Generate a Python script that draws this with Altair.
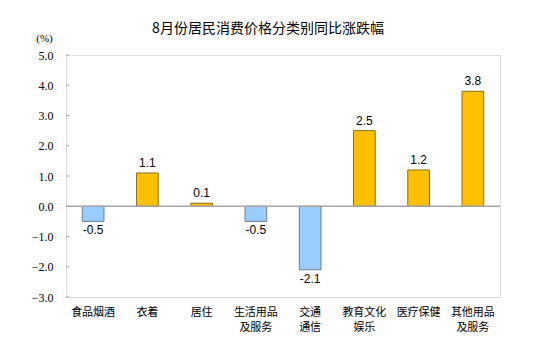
import altair as alt
import pandas as pd

categories = ["食品烟酒", "衣着", "居住", "生活用品\n及服务", "交通\n通信", "教育文化\n娱乐", "医疗保健", "其他用品\n及服务"]
values = [-0.5, 1.1, 0.1, -0.5, -2.1, 2.5, 1.2, 3.8]
y_ticks = [-3.0, -2.0, -1.0, 0.0, 1.0, 2.0, 3.0, 4.0, 5.0]
title_text = "8月份居民消费价格分类别同比涨跌幅"

df = pd.DataFrame({"cat": categories, "val": values})
df["lab"] = df["val"].map(lambda v: f"{v:.1f}")
df["sign"] = df["val"].map(lambda v: "pos" if v >= 0 else "neg")
ticks_df = pd.DataFrame({"val": y_ticks})
zero_df = pd.DataFrame({"val": [0.0]})

FRAME = "#a6a6a6"

x_axis = alt.Axis(labelExpr="split(datum.label, '\\n')", labelAngle=0,
                  labelFont="Noto Sans CJK SC", labelFontSize=11, labelColor="#000",
                  labelPadding=9, labelBaseline="top", labelLineHeight=15,
                  ticks=False, domain=False)
x_scale = alt.Scale(paddingInner=0.6, paddingOuter=0.3)
y_scale = alt.Scale(domain=[-3, 5], nice=False, zero=False)
y_axis = alt.Axis(values=y_ticks, format=".1f", grid=False, ticks=False, domain=False,
                  labelFont="Liberation Serif", labelFontSize=12, labelColor="#000",
                  labelPadding=13, labelOverlap=False, labelFlush=False,
                  title="(%)", titleAngle=0, titleX=-22, titleY=-12,
                  titleFont="Liberation Serif", titleFontSize=11,
                  titleFontWeight="normal", titleColor="#000",
                  titleAlign="center", titleBaseline="bottom")

X = alt.X("cat:N", sort=categories, title=None, scale=x_scale, axis=x_axis)
Y = alt.Y("val:Q", title="(%)", scale=y_scale, axis=y_axis)

bars = alt.Chart(df).mark_bar(strokeWidth=1).encode(
    x=X,
    y=Y,
    y2=alt.datum(0),
    color=alt.Color("sign:N", scale=alt.Scale(domain=["pos", "neg"], range=["#ffc000", "#99ccff"]), legend=None),
    stroke=alt.Stroke("sign:N", scale=alt.Scale(domain=["pos", "neg"], range=["#8a6e1a", "#6f7f8f"]), legend=None),
)

labels_pos = alt.Chart(df).transform_filter("datum.val >= 0").mark_text(
    baseline="bottom", dy=-3, font="Liberation Sans", fontSize=12, color="#000"
).encode(x=X, y=Y, text="lab:N")

labels_neg = alt.Chart(df).transform_filter("datum.val < 0").mark_text(
    baseline="top", dy=4, font="Liberation Sans", fontSize=12, color="#000"
).encode(x=X, y=Y, text="lab:N")

zero = alt.Chart(zero_df).mark_rule(color=FRAME, strokeWidth=1.5).encode(y=Y)

tick_marks = alt.Chart(ticks_df).mark_rule(color=FRAME, strokeWidth=1).encode(
    y=Y, x=alt.value(0), x2=alt.value(3))

title_mark = alt.Chart(pd.DataFrame({"title": [title_text]})).mark_text(
    font="Noto Sans CJK SC", fontSize=14, color="#000", align="center", baseline="middle"
).encode(text="title:N", x=alt.value(202), y=alt.value(-26))

chart = alt.layer(bars, zero, tick_marks, labels_pos, labels_neg, title_mark).properties(
    width=434, height=242,
    padding={"left": 58, "top": 47, "right": 34, "bottom": 50},
    autosize=alt.AutoSizeParams(type="none"),
).configure_view(stroke=FRAME, strokeWidth=1.5).configure_axis(
    labelOverlap=False
).configure_axisY(
    labelFont="Liberation Serif", titleFont="Liberation Serif"
).configure(background="white")

chart.save("out.html", embed_options={"renderer": "svg", "actions": False})
